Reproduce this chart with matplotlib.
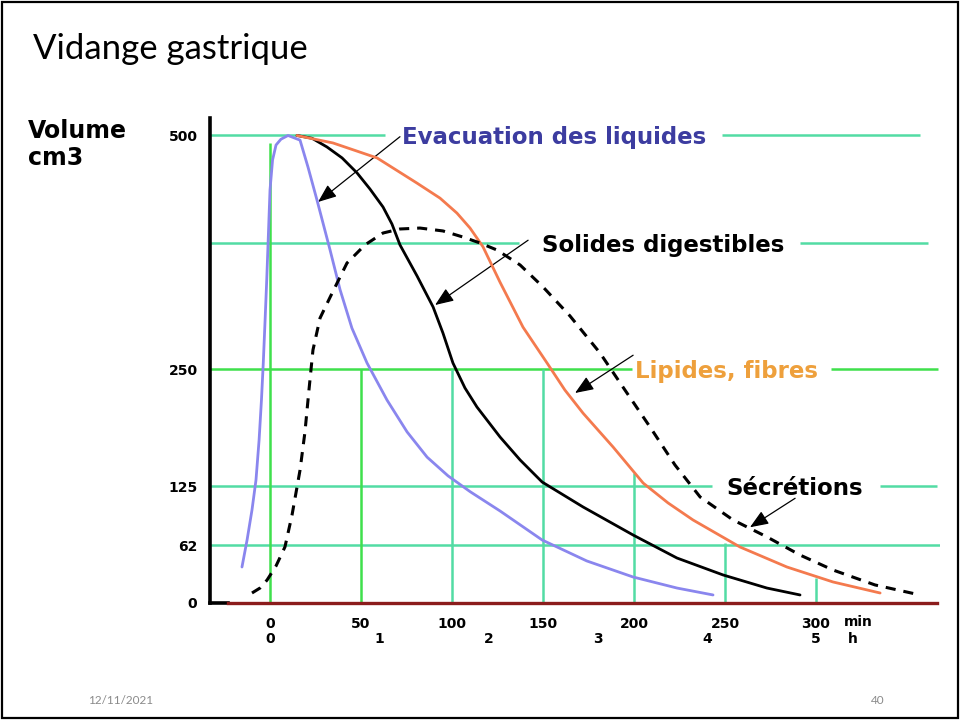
import matplotlib
matplotlib.use("Agg")
import matplotlib.pyplot as plt
from matplotlib.patches import Rectangle

# --- data (time in min, volume in cm3) ---
liq_t = [-15.4, -12.6, -9.9, -7.7, -6.0, -4.7, -3.7, -2.7, -1.8, -0.8, 0, 1.4, 3.3, 6.0,
         9.9, 16.5, 20.9, 25.8, 33, 38.5, 45, 53.3, 64.3, 75.3, 86.3, 97.8, 110,
         126.4, 149.5, 174, 199.5, 223.6, 243.4]
liq_v = [38.5, 67.4, 99.5, 131.6, 174.3, 217.1, 256.7, 302.7, 345.5, 398.9, 441.7, 473.8, 489.8, 496,
         500, 495, 466, 431, 377.5, 335, 294, 256.7, 217, 183, 156, 136, 119,
         98.4, 67.4, 45, 27.8, 16, 8.6]

sol_t = [14.8, 23.1, 31.3, 39.6, 47.8, 54.9, 62.1, 67, 71.4, 80.8, 89.6, 95, 100.5,
         107.1, 113.7, 126.4, 137.4, 149.5, 172, 199.5, 223.6, 248.9, 273, 291.2]
sol_v = [500, 497, 487.7, 476, 460, 442.8, 423.5, 405.3, 383, 349.7, 316.6, 288.8, 256.7,
         230, 209.6, 177.5, 153, 129.4, 102.7, 72.7, 48.1, 30, 16, 8.6]

lip_t = [14.8, 34.6, 58.8, 80.8, 93.4, 102.7, 109.9, 117, 126.4, 139, 152.2, 162, 172,
         188.5, 205, 218.7, 232.4, 258.2, 284, 309.3, 335.2]
lip_v = [500, 492, 476, 449, 433, 417, 401, 381, 343, 295, 256.7, 227.8, 203,
         166.8, 128.3, 107, 88.8, 59.9, 38.5, 22.5, 10.7]

sec_t = [-9.9, -5.5, -1.6, 3.3, 8.2, 12.1, 16.5, 19.2, 21.4, 23.6, 27.5, 33, 42.3, 52.2,
         62.1, 71.4, 82.4, 95, 106, 115.4, 124.7, 137.4, 150, 164.8, 181.3, 195, 208.8,
         222.5, 236.3, 254.4, 273.1, 291.2, 309.3, 332.4, 357.1]
sec_v = [10.7, 16, 24.6, 39.6, 59.9, 94.1, 142.2, 182.9, 227.8, 270.6, 304.8, 327, 363.6, 383,
         395.7, 400, 401, 397.9, 391.4, 385, 377.5, 361.5, 338, 307, 267.4, 227.8, 188.2,
         147.6, 113.4, 88.8, 70.6, 51.3, 35.3, 19.3, 8.6]

y_ticks = [0, 62, 125, 250, 500]
min_ticks = [0, 50, 100, 150, 200, 250, 300]
hour_ticks = [0, 1, 2, 3, 4, 5]

# horizontal grid lines: level, segments (min), colour
h_levels = [500, 385, 250, 125, 62]
h_segments = [[(-33, 63), (248.4, 357)],
              [(-33, 137), (291, 361.5)],
              [(-33, 199), (308, 367)],
              [(-33, 243), (335, 366.5)],
              [(-33, 368)]]
h_colors = ["#52dca4", "#52dca4", "#3fe04c", "#52dca4", "#52dca4"]

# vertical grid lines: position, top, colour
v_pos = [0, 50, 100, 150, 200, 250, 300]
v_top = [492, 250, 250, 250, 139, 64, 27]
v_colors = ["#3fe04c", "#3fe04c", "#52dca4", "#52dca4", "#52dca4", "#52dca4", "#52dca4"]

labels = ["Evacuation des liquides", "Solides digestibles", "Lipides, fibres", "Sécrétions"]
label_xy = [(72.5, 500), (149.3, 385), (200.5, 250), (251, 125)]
label_colors = ["#3c3ca0", "black", "#eea03c", "black"]
arrow_from = [(71.4, 498.7), (141.8, 388), (199.5, 265), (288.5, 112)]
arrow_to = [(26.4, 428.9), (90.7, 318.7), (167.6, 224.6), (263.7, 81)]

fig = plt.figure(figsize=(9.6, 7.2), dpi=100)
fig.patch.set_facecolor("white")
fig.patches.append(Rectangle((2 / 960, 2 / 720), 956 / 960, 716 / 720, transform=fig.transFigure,
                             fill=False, edgecolor="black", lw=1.6))

ax = fig.add_axes([210 / 960, 117 / 720, 730 / 960, 485 / 720])
ax.set_xlim(-32.97, 368.1)
ax.set_ylim(0, 518.7)
for s in ["top", "right", "bottom"]:
    ax.spines[s].set_visible(False)
ax.spines["left"].set_linewidth(2.6)
ax.spines["left"].set_color("black")

# grid
for lvl, segs, c in zip(h_levels, h_segments, h_colors):
    for a, b in segs:
        ax.hlines(lvl, a, b, colors=c, lw=1.8, zorder=1)
ax.vlines(v_pos, 0, v_top, colors=v_colors, lw=1.8, zorder=1)

# baseline
ax.plot([-33, -23], [0, 0], color="black", lw=2.6, clip_on=False, zorder=3)
ax.plot([-23, 366.5], [0, 0], color="#8b1c1c", lw=2.4, clip_on=False, zorder=3)

# curves
line_kw = dict(solid_joinstyle="round", solid_capstyle="round", zorder=4)
ax.plot(liq_t, liq_v, color="#8a86ee", lw=2.0, **line_kw)
ax.plot(sol_t, sol_v, color="black", lw=2.0, **line_kw)
ax.plot(lip_t, lip_v, color="#f47a4e", lw=2.0, **line_kw)
ax.plot(sec_t, sec_v, color="black", lw=2.2, dashes=(3.3, 2.6), zorder=4)

# labels + arrows
for txt, (x, y), c in zip(labels, label_xy, label_colors):
    ax.text(x, y, txt, color=c, fontsize=16.5, fontweight="bold", family="DejaVu Sans",
            ha="left", va="center_baseline", clip_on=False, zorder=5)
for a, b in zip(arrow_from, arrow_to):
    ax.annotate("", xy=b, xytext=a, annotation_clip=False,
                arrowprops=dict(arrowstyle="-|>,head_length=0.75,head_width=0.3",
                                color="black", lw=0.9, shrinkA=0, shrinkB=0,
                                mutation_scale=15))

# ticks
ax.set_yticks(y_ticks)
ax.set_yticklabels([str(v) for v in y_ticks])
ax.set_xticks(min_ticks)
ax.set_xticklabels([str(v) for v in min_ticks])
ax.tick_params(axis="y", length=0, pad=9, labelsize=10)
ax.tick_params(axis="x", length=0, pad=10, labelsize=10)
for lab in ax.get_xticklabels() + ax.get_yticklabels():
    lab.set_fontweight("bold")

sec = ax.secondary_xaxis("bottom", functions=(lambda m: m / 60, lambda h: h * 60))
sec.set_xticks(hour_ticks)
sec.set_xticklabels([str(h) for h in hour_ticks])
sec.tick_params(length=0, pad=21, labelsize=10)
sec.spines["bottom"].set_visible(False)
for lab in sec.get_xticklabels():
    lab.set_fontweight("bold")

ax.text(323, -20.3, "min", fontsize=10, fontweight="bold", ha="center", va="center", clip_on=False)
ax.text(320, -38.5, "h", fontsize=10, fontweight="bold", ha="center", va="center", clip_on=False)

# slide text
fig.text(28 / 960, 1 - 131 / 720, "Volume", fontsize=17, fontweight="bold", family="DejaVu Sans",
         ha="left", va="center")
fig.text(28 / 960, 1 - 158 / 720, "cm3", fontsize=17, fontweight="bold", family="DejaVu Sans",
         ha="left", va="center")
fig.text(33 / 960, 1 - 59 / 720, "Vidange gastrique", fontsize=25, family="Lato",
         ha="left", va="baseline")
fig.text(88 / 960, 1 - 700 / 720, "12/11/2021", fontsize=8.5, family="Lato", color="#8a8a8a",
         ha="left", va="center")
fig.text(885 / 960, 1 - 700 / 720, "40", fontsize=8.5, family="Lato", color="#8a8a8a",
         ha="right", va="center")

plt.savefig("out.png", dpi=100)
